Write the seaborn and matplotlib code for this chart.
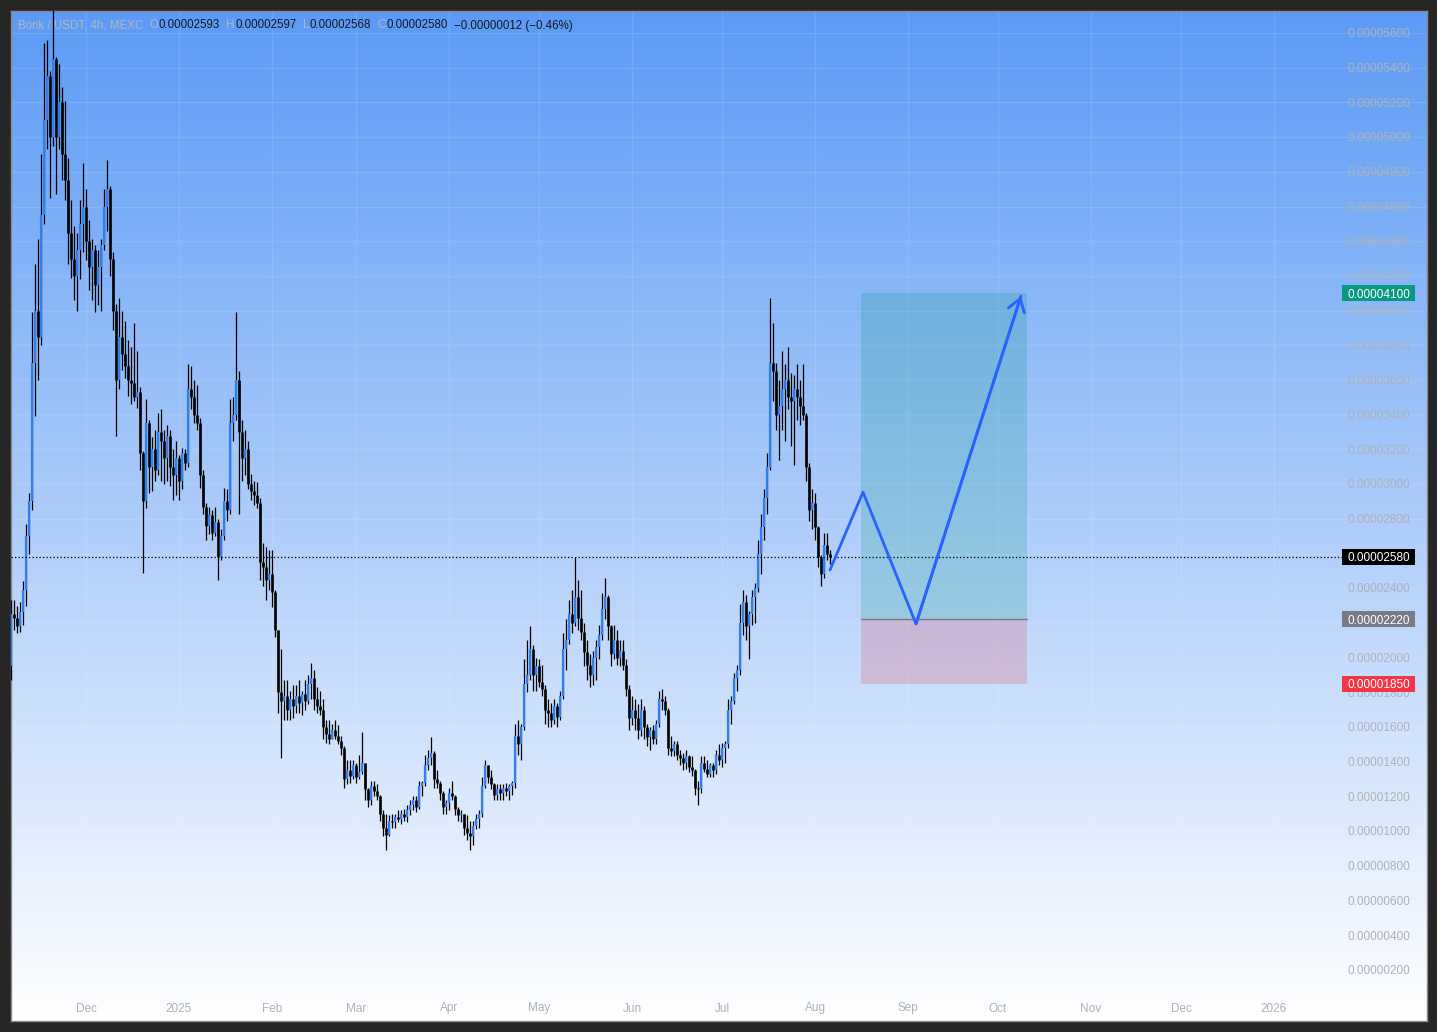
import numpy as np
import pandas as pd
import matplotlib
matplotlib.use("Agg")
import matplotlib.pyplot as plt
import matplotlib.dates as mdates
import matplotlib.transforms as mtransforms
from matplotlib.patches import Rectangle
import seaborn as sns

# ---------------- data (prices in units of 1e-6 USDT) ----------------
start_date = "2024-11-06"
first_open = 19.5
high = [
    23.3, 23.3, 23.0, 23.2, 24.4, 27.7, 29.5, 39.9, 42.7, 44.1,
    49.0, 55.4, 55.6, 53.8, 59.0, 54.6, 54.2, 52.9, 52.1, 48.8,
    46.4, 44.9, 44.5, 46.4, 48.5, 47.0, 45.2, 44.1, 43.8, 43.5,
    44.1, 47.0, 48.7, 47.2, 43.4, 40.4, 40.7, 40.0, 39.4, 38.3,
    37.9, 39.3, 37.7, 35.6, 31.9, 34.9, 33.7, 32.7, 33.1, 34.1,
    34.3, 33.1, 33.4, 33.1, 32.0, 32.5, 31.7, 32.1, 32.0, 36.9,
    36.8, 36.0, 35.7, 33.8, 30.8, 28.9, 28.7, 28.5, 28.7, 28.0,
    27.4, 29.8, 29.7, 34.9, 35.0, 39.9, 36.5, 33.7, 33.1, 32.5,
    30.6, 30.2, 30.1, 29.2, 26.6, 26.4, 26.2, 26.2, 23.9, 21.6,
    20.5, 18.7, 18.7, 18.1, 18.4, 18.4, 18.7, 18.1, 18.7, 19.0,
    19.7, 19.3, 18.3, 18.1, 17.6, 16.4, 16.4, 16.2, 16.4, 16.1,
    15.5, 14.9, 14.1, 14.1, 14.1, 13.9, 14.4, 15.7, 13.9, 12.5,
    12.9, 12.9, 12.7, 12.1, 11.2, 11.0, 10.9, 11.0, 11.0, 11.2,
    11.2, 11.3, 11.5, 11.8, 12.0, 12.0, 12.9, 12.9, 14.4, 14.7,
    15.4, 14.6, 13.5, 12.9, 12.3, 11.8, 12.5, 12.9, 12.1, 11.4,
    11.2, 11.0, 10.9, 10.6, 10.6, 11.0, 11.2, 13.1, 14.1, 13.8,
    13.5, 12.8, 12.7, 12.7, 12.7, 12.8, 12.7, 12.9, 16.2, 16.4,
    16.2, 19.9, 21.0, 21.8, 20.7, 20.0, 19.9, 19.6, 18.4, 17.6,
    17.4, 17.6, 17.4, 18.1, 21.4, 22.2, 23.3, 23.9, 25.8, 24.5,
    23.9, 22.0, 21.0, 20.2, 20.4, 21.0, 21.9, 23.7, 24.6, 23.6,
    21.9, 21.9, 21.6, 21.0, 21.0, 19.9, 18.4, 17.8, 17.6, 17.3,
    17.6, 17.2, 16.2, 16.0, 16.1, 16.4, 18.1, 18.2, 17.8, 17.1,
    15.5, 15.2, 15.2, 14.7, 14.5, 14.7, 14.4, 14.3, 13.6, 12.9,
    14.3, 14.3, 14.1, 13.9, 13.9, 14.7, 15.0, 15.1, 15.2, 17.6,
    17.8, 19.1, 19.6, 23.1, 23.9, 23.6, 22.7, 23.9, 24.3, 26.8,
    28.3, 29.7, 31.8, 40.7, 39.3, 37.0, 36.0, 37.7, 36.9, 37.9,
    36.4, 36.3, 36.9, 36.0, 36.9, 34.1, 31.2, 29.7, 29.5, 27.6,
    25.9, 27.2, 27.2, 26.2,
]
low = [
    18.7, 21.6, 21.4, 21.5, 21.9, 23.0, 26.0, 28.5, 33.9, 36.0,
    38.0, 45.0, 49.3, 46.5, 49.5, 46.7, 49.3, 47.5, 46.4, 42.7,
    41.9, 40.6, 40.0, 41.8, 43.4, 42.9, 41.2, 40.6, 39.9, 40.3,
    40.0, 43.5, 44.6, 42.0, 38.9, 32.8, 35.5, 36.6, 36.1, 35.1,
    34.6, 34.8, 34.4, 30.8, 24.9, 28.6, 29.5, 29.6, 30.2, 30.5,
    30.2, 30.0, 30.2, 29.9, 29.1, 29.4, 29.1, 29.7, 30.8, 31.0,
    34.3, 33.5, 33.1, 29.8, 28.3, 26.8, 27.1, 26.8, 27.0, 24.5,
    25.6, 26.8, 27.9, 28.3, 32.5, 33.7, 28.3, 30.2, 30.5, 29.7,
    29.1, 28.8, 28.6, 24.5, 24.1, 23.3, 23.9, 22.9, 21.2, 16.8,
    14.2, 16.4, 16.4, 16.4, 16.5, 16.8, 16.8, 16.7, 17.0, 17.3,
    17.6, 17.0, 16.8, 16.7, 15.3, 15.1, 15.0, 15.3, 15.3, 15.0,
    14.4, 12.5, 12.7, 12.8, 13.0, 12.8, 13.0, 13.3, 11.8, 11.4,
    11.5, 12.0, 11.8, 10.6, 9.7, 8.9, 9.7, 10.2, 10.2, 10.5,
    10.4, 10.6, 10.5, 10.9, 11.2, 11.1, 11.3, 12.0, 12.6, 13.5,
    13.8, 12.5, 12.5, 11.8, 11.0, 11.0, 11.2, 11.8, 10.9, 10.6,
    10.5, 9.8, 9.5, 8.9, 9.2, 10.1, 10.2, 10.8, 12.5, 12.8,
    12.4, 11.8, 11.8, 11.8, 11.8, 12.0, 11.8, 12.1, 12.5, 14.4,
    14.1, 15.8, 18.0, 18.7, 18.1, 18.1, 18.3, 17.8, 16.2, 16.0,
    16.0, 16.2, 16.0, 16.4, 17.6, 19.3, 20.8, 21.4, 21.8, 21.6,
    21.0, 19.5, 18.7, 18.3, 18.4, 18.7, 19.9, 21.0, 22.2, 21.0,
    19.5, 19.9, 19.6, 19.5, 19.3, 17.8, 15.8, 16.1, 15.8, 15.3,
    15.5, 15.3, 14.9, 14.7, 15.0, 15.0, 16.0, 17.0, 16.7, 14.4,
    14.3, 14.3, 14.1, 13.8, 13.5, 13.6, 13.4, 13.2, 12.1, 11.5,
    12.2, 13.4, 13.1, 13.1, 13.1, 13.3, 13.8, 13.7, 13.9, 14.8,
    16.2, 17.3, 18.1, 19.0, 21.3, 21.0, 19.9, 21.9, 22.0, 23.8,
    24.8, 26.8, 28.3, 30.8, 34.8, 33.1, 31.4, 33.1, 32.5, 34.3,
    32.2, 31.1, 33.7, 33.4, 33.7, 30.2, 27.9, 27.4, 26.8, 25.2,
    24.1, 24.6, 25.6, 25.4,
]
close = [
    22.5, 22.3, 21.8, 22.6, 23.9, 27.0, 29.0, 37.0, 40.0, 38.5,
    45.5, 51.0, 53.5, 50.0, 54.5, 50.0, 52.0, 49.0, 47.5, 44.5,
    43.0, 42.0, 43.5, 45.0, 46.0, 44.0, 42.5, 43.5, 41.5, 42.5,
    43.8, 46.0, 47.0, 43.0, 40.0, 36.0, 38.5, 37.5, 36.8, 36.0,
    35.8, 35.0, 35.3, 31.8, 29.0, 33.5, 31.0, 32.0, 30.8, 33.0,
    32.5, 31.5, 32.8, 31.0, 30.5, 31.5, 30.2, 31.8, 31.2, 35.5,
    35.0, 34.0, 33.5, 30.5, 28.7, 27.6, 28.2, 27.2, 27.8, 25.8,
    27.0, 29.0, 28.5, 33.5, 34.0, 36.0, 33.0, 31.5, 32.0, 30.0,
    29.6, 29.4, 28.9, 25.5, 25.2, 24.5, 24.8, 23.8, 21.6, 18.0,
    17.5, 17.8, 17.0, 17.6, 17.2, 17.8, 17.4, 17.9, 17.5, 18.5,
    18.8, 17.6, 17.2, 17.0, 16.0, 15.6, 15.3, 15.8, 15.5, 15.2,
    14.8, 13.0, 13.5, 13.2, 13.8, 13.1, 13.4, 13.9, 12.4, 11.8,
    12.6, 12.3, 12.0, 11.0, 10.2, 9.8, 10.6, 10.5, 10.8, 10.7,
    11.0, 10.8, 11.2, 11.5, 11.8, 11.4, 12.6, 12.8, 13.8, 14.2,
    14.5, 13.0, 12.8, 12.2, 11.4, 11.6, 12.2, 12.0, 11.3, 10.9,
    11.0, 10.2, 9.9, 9.7, 10.3, 10.7, 11.0, 12.6, 13.8, 13.1,
    12.7, 12.1, 12.4, 12.2, 12.5, 12.3, 12.6, 12.8, 15.5, 15.0,
    16.0, 18.5, 19.0, 20.5, 19.0, 19.5, 18.6, 18.2, 17.0, 16.8,
    16.4, 17.2, 16.6, 17.8, 20.5, 21.0, 22.5, 22.0, 23.5, 22.3,
    21.5, 20.3, 19.6, 19.0, 20.0, 20.6, 21.3, 22.8, 23.5, 21.8,
    20.2, 21.0, 20.0, 20.4, 19.6, 18.2, 16.5, 17.0, 16.5, 15.8,
    17.0, 16.0, 15.4, 15.8, 15.3, 16.2, 17.6, 17.5, 17.0, 14.8,
    14.6, 15.0, 14.4, 14.2, 13.9, 14.3, 13.7, 13.5, 12.5, 12.4,
    13.9, 13.6, 13.3, 13.8, 13.5, 14.4, 14.1, 14.8, 15.0, 17.0,
    17.5, 18.8, 19.3, 22.0, 23.2, 21.8, 22.5, 23.5, 24.0, 26.0,
    27.5, 29.2, 31.0, 37.0, 36.5, 34.0, 34.5, 35.5, 36.0, 35.0,
    34.8, 35.5, 35.0, 34.5, 34.0, 31.0, 28.5, 28.9, 27.5, 25.8,
    24.8, 26.5, 26.0, 25.8,
]

# trade-idea drawing (position tool + projected path)
target_price = 41.0
entry_price = 22.2
stop_price = 18.5
last_price = 25.8
position_start = "2025-08-16 08:00"
position_end = "2025-10-10 16:00"
path_dates = ["2025-08-06 00:00", "2025-08-17 00:00", "2025-09-03 16:00", "2025-10-08 16:00"]
path_prices = [25.05, 29.54, 21.94, 40.84]

# scale labels (26 and 22 sit under the price boxes and are hidden, as in the reference)
price_ticks = list(range(2, 58, 2))
hidden_ticks = [22, 26]
month_ticks = ["2024-12-01", "2025-01-01", "2025-02-01", "2025-03-01", "2025-04-01",
               "2025-05-01", "2025-06-01", "2025-07-01", "2025-08-01", "2025-09-01",
               "2025-10-01", "2025-11-01", "2025-12-01", "2026-01-01"]
month_labels = ["Dec", "2025", "Feb", "Mar", "Apr", "May", "Jun", "Jul", "Aug",
                "Sep", "Oct", "Nov", "Dec", "2026"]
header_title = "Bonk / USDT, 4h, MEXC"
header_ohlc = [("O", "0.00002593"), ("H", "0.00002597"), ("L", "0.00002568"), ("C", "0.00002580")]
header_change = "\u22120.00000012 (\u22120.46%)"

# ---------------- styling ----------------
sns.set_theme(style="white")
plt.rcParams["font.family"] = ["Liberation Sans", "DejaVu Sans"]

W, H = 1437, 1032
fig = plt.figure(figsize=(W / 100, H / 100), dpi=100, facecolor="#262626")
L_PX, R_PX, T_PX, B_PX = 11, 1427, 11, 1021
ax = fig.add_axes([L_PX / W, (H - B_PX) / H, (R_PX - L_PX) / W, (B_PX - T_PX) / H])

dref = mdates.date2num(pd.Timestamp("2024-12-01"))
px_per_day = 3.0
x0 = dref + (L_PX - 86) / px_per_day
x1 = dref + (R_PX - 86) / px_per_day
px_per_unit = 17.35
y1 = 56 + (33 - T_PX) / px_per_unit
y0 = 56 - (B_PX - 33) / px_per_unit

# gradient background
top = np.array([91, 154, 245]) / 255
bot = np.array([255, 255, 255]) / 255
t = np.linspace(0, 1, 512)[:, None]
grad = (top[None, :] * (1 - t) + bot[None, :] * t)[:, None, :]
ax.imshow(grad, extent=[x0, x1, y0, y1], aspect="auto", origin="upper", zorder=0,
          interpolation="bilinear")

# grid
for v in price_ticks:
    ax.axhline(v, color="white", alpha=0.11, lw=1, zorder=1)
for d in month_ticks:
    ax.axvline(mdates.date2num(pd.Timestamp(d)), color="white", alpha=0.11, lw=1, zorder=1)

# candles
df = pd.DataFrame({"date": pd.date_range(start_date, periods=len(close), freq="D"),
                   "high": high, "low": low, "close": close})
df["open"] = [first_open] + close[:-1]
xs = mdates.date2num(df["date"])
o = df["open"].to_numpy(); c = df["close"].to_numpy()
hi = np.maximum.reduce([df["high"].to_numpy(), o, c])
lo = np.minimum.reduce([df["low"].to_numpy(), o, c])
up = c >= o
ax.vlines(xs, lo, hi, color="black", lw=0.9, zorder=3)
ax.vlines(xs[~up], o[~up], c[~up], color="black", lw=1.9, zorder=4)
ax.vlines(xs[up], o[up], c[up], color="#2f7ff0", lw=1.6, zorder=4)

# last price dotted line
blend_xa = mtransforms.blended_transform_factory(ax.transAxes, ax.transData)
ax.plot([0, (1342 - L_PX) / (R_PX - L_PX)], [last_price, last_price], transform=blend_xa,
        color="black", lw=0.9, ls=(0, (1.0, 1.8)), zorder=5)

# position tool
ps = mdates.date2num(pd.Timestamp(position_start)); pe = mdates.date2num(pd.Timestamp(position_end))
ax.add_patch(Rectangle((ps, entry_price), pe - ps, target_price - entry_price,
                       facecolor=(8 / 255, 153 / 255, 129 / 255, 0.2), edgecolor="none", zorder=2))
ax.add_patch(Rectangle((ps, stop_price), pe - ps, entry_price - stop_price,
                       facecolor=(242 / 255, 54 / 255, 69 / 255, 0.2), edgecolor="none", zorder=2))
ax.plot([ps, pe], [entry_price, entry_price], color="#787b86", lw=1, zorder=2.5)

# projected path
path_x = [mdates.date2num(pd.Timestamp(s)) for s in path_dates]
path = pd.DataFrame({"x": path_x, "y": path_prices})
sns.lineplot(data=path, x="x", y="y", ax=ax, color="#2962ff", lw=2, sort=False,
             estimator=None, zorder=6)
ax.annotate("", xy=(path["x"].iloc[-1], path["y"].iloc[-1]),
            xytext=(path["x"].iloc[-2], path["y"].iloc[-2]),
            arrowprops=dict(arrowstyle="->,head_length=0.45,head_width=0.3", color="#2962ff",
                            lw=2, shrinkA=0, shrinkB=0, mutation_scale=20), zorder=6)

# price scale labels (baseline placed ~4 px below the value line)
FS = 8.5
lab_x = (1410 - L_PX) / (R_PX - L_PX)
ytxt = mtransforms.offset_copy(blend_xa, fig=fig, y=-4.3, units="dots")
for v in price_ticks:
    if v in hidden_ticks:
        continue
    ax.text(lab_x, v, f"{v / 1e6:.8f}", transform=ytxt, ha="right", va="baseline",
            color="#aeb1ba", fontsize=FS, zorder=7)
box_l = (1342 - L_PX) / (R_PX - L_PX); box_w = (1415 - 1342) / (R_PX - L_PX)
half = 8.0 / px_per_unit
for v, col in [(target_price, "#089981"), (last_price, "#000000"),
               (entry_price, "#787b86"), (stop_price, "#f23645")]:
    ax.add_patch(Rectangle((box_l, v - half), box_w, 2 * half, transform=blend_xa,
                           facecolor=col, edgecolor="none", zorder=8))
    ax.text(lab_x, v, f"{v / 1e6:.8f}", transform=ytxt, ha="right", va="baseline",
            color="white", fontsize=FS, zorder=9)

# time scale labels
blend_ax = mtransforms.blended_transform_factory(ax.transData, ax.transAxes)
for d, lab in zip(month_ticks, month_labels):
    ax.text(mdates.date2num(pd.Timestamp(d)), (B_PX - 1011.5) / (B_PX - T_PX), lab,
            transform=blend_ax, ha="center", va="baseline", color="#aeb1ba",
            fontsize=FS, zorder=7)

# header legend
gray, dark = "#b2b5be", "#131722"
HFS = 8.3
prev = ax.text((18 - L_PX) / (R_PX - L_PX), (B_PX - 28.5) / (B_PX - T_PX), header_title,
               transform=ax.transAxes, ha="left", va="baseline", color=gray,
               fontsize=HFS, zorder=10)
for k, val in header_ohlc:
    prev = ax.annotate(k, xy=(1, 0), xycoords=prev, xytext=(4.5, 0), textcoords="offset points",
                       ha="left", va="bottom", color=gray, fontsize=HFS, zorder=10)
    prev = ax.annotate(val, xy=(1, 0), xycoords=prev, xytext=(0.3, 0), textcoords="offset points",
                       ha="left", va="bottom", color=dark, fontsize=HFS, zorder=10)
ax.annotate(header_change, xy=(1, 0), xycoords=prev, xytext=(4.5, 0), textcoords="offset points",
            ha="left", va="bottom", color=dark, fontsize=HFS, zorder=10)

ax.set_xlim(x0, x1)
ax.set_ylim(y0, y1)
ax.set_xticks([]); ax.set_yticks([])
ax.set_xlabel(""); ax.set_ylabel("")
for s in ax.spines.values():
    s.set_color("#8a8a8a"); s.set_linewidth(1)
legend = ax.get_legend()
if legend:
    legend.remove()

fig.savefig("out.png", dpi=100, facecolor=fig.get_facecolor())
